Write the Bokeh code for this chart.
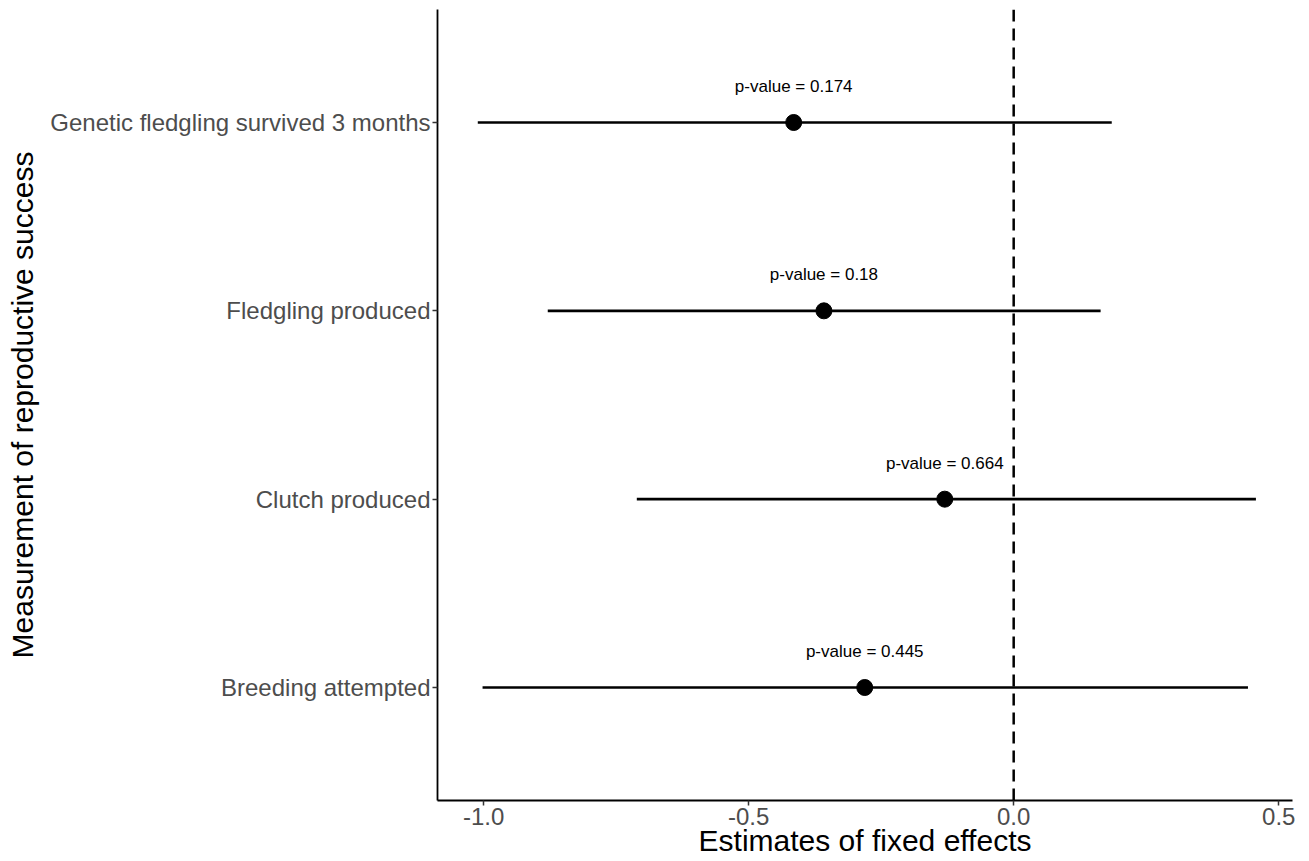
from bokeh.plotting import figure
from bokeh.models import FactorRange, Span, ColumnDataSource
from bokeh.core.properties import value
from bokeh.embed import file_html
from bokeh.resources import INLINE

categories = ["Breeding attempted", "Clutch produced", "Fledgling produced",
              "Genetic fledgling survived 3 months"]
estimates = [-0.281, -0.130, -0.358, -0.415]
lower = [-1.002, -0.711, -0.879, -1.011]
upper = [0.442, 0.457, 0.164, 0.185]
pvalues = ["p-value = 0.445", "p-value = 0.664", "p-value = 0.18", "p-value = 0.174"]

src = ColumnDataSource(dict(cat=categories, est=estimates, lo=lower, hi=upper, lab=pvalues))

yr = FactorRange(factors=categories, range_padding=0.1, range_padding_units="absolute")
p = figure(width=1297, height=859, y_range=yr, x_range=(-1.087, 0.526),
           output_backend="svg", toolbar_location=None,
           min_border_left=437, min_border_right=5, min_border_top=9, min_border_bottom=0)
p.outline_line_color = None
p.xgrid.grid_line_color = None
p.ygrid.grid_line_color = None
p.background_fill_color = "white"

p.add_layout(Span(location=0, dimension="height", line_color="black",
                  line_width=2.5, line_dash="12 7"))
p.segment(x0="lo", x1="hi", y0="cat", y1="cat", source=src, line_color="black", line_width=2.6)
p.scatter(x="est", y="cat", source=src, size=16, color="black")
p.text(x="est", y="cat", text="lab", source=src, y_offset=-36, text_align="center",
       text_baseline="middle", text_font=value("Liberation Sans"), text_font_size="17px",
       text_color="black")

for ax in (p.xaxis, p.yaxis):
    ax.axis_line_color = "black"
    ax.axis_line_width = 1.8
    ax.major_tick_line_color = "#333333"
    ax.major_tick_line_width = 1.5
    ax.major_tick_out = 5
    ax.major_tick_in = 0
    ax.minor_tick_line_color = None
    ax.major_label_text_font = "Liberation Sans"
    ax.major_label_text_font_size = "24px"
    ax.major_label_text_color = "#4D4D4D"
    ax.axis_label_text_font = "Liberation Sans"
    ax.axis_label_text_font_size = "30px"
    ax.axis_label_text_font_style = "normal"
    ax.axis_label_text_color = "black"

p.xaxis.ticker = [-1.0, -0.5, 0.0, 0.5]
p.xaxis.major_label_overrides = {-1.0: "-1.0", -0.5: "-0.5", 0.0: "0.0", 0.5: "0.5"}
p.xaxis.axis_label = "Estimates of fixed effects"
p.xaxis.major_label_standoff = 2
p.xaxis.axis_label_standoff = -4
p.yaxis.axis_label = "Measurement of reproductive success"
p.yaxis.major_label_standoff = 2
p.yaxis.axis_label_standoff = 8

open("out.html", "w").write(file_html(p, INLINE))
